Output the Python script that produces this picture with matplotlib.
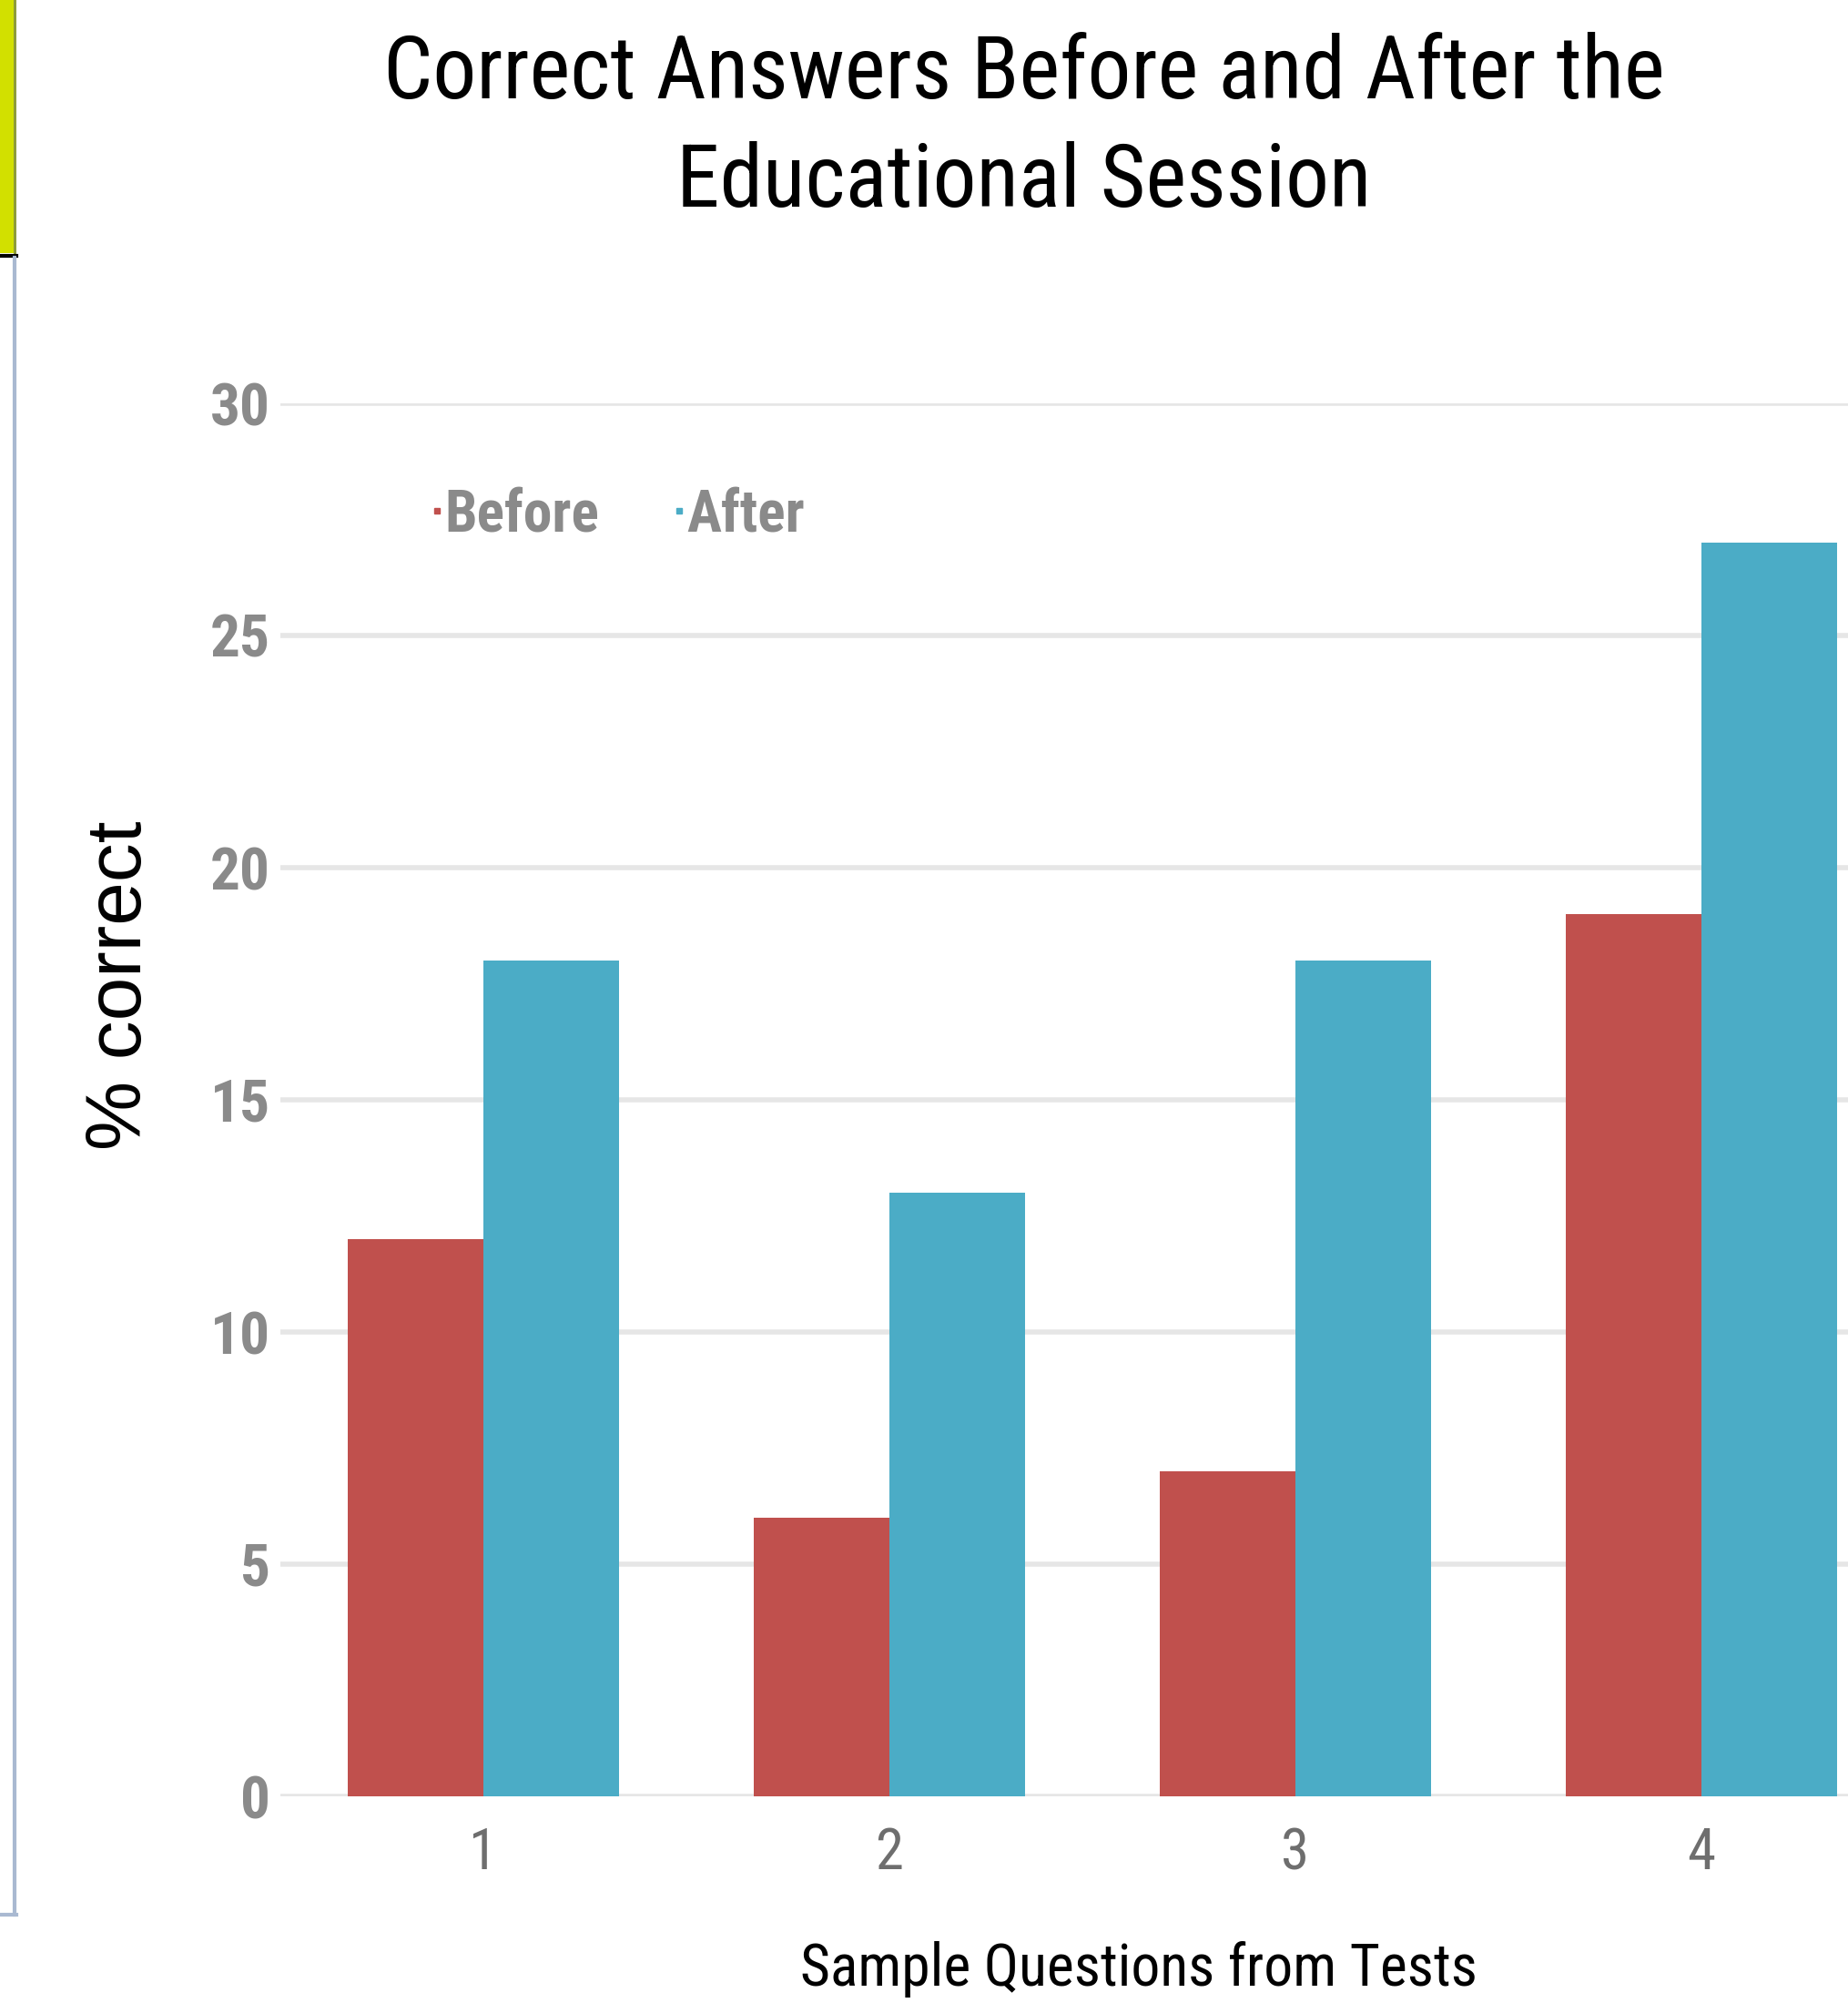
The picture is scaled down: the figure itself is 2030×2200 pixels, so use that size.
import matplotlib
matplotlib.use("Agg")
import matplotlib.pyplot as plt
from matplotlib import font_manager as fm
from matplotlib.lines import Line2D
from matplotlib.patches import Rectangle
import numpy as np

# Data
questions = ["1", "2", "3", "4"]
before = [12, 6, 7, 19]
after = [18, 13, 18, 27]
y_ticks = [0, 5, 10, 15, 20, 25, 30]
series_names = ["Before", "After"]

title = "Correct Answers Before and After the\nEducational Session"
x_label = "Sample Questions from Tests"
y_label = "% correct"

RED = "#C0504D"
BLUE = "#4BACC6"


def _weight(f):
    w = f.weight
    if isinstance(w, int):
        return w
    return fm.weight_dict.get(str(w), 400)


def narrow_font(bold=False):
    """Pick a condensed sans-serif face if one is installed."""
    preferred = ["liberation sans narrow", "arial narrow", "roboto condensed",
                 "open sans condensed", "noto sans condensed", "dejavu sans condensed",
                 "noto sans", "open sans", "roboto", "dejavu sans"]
    cands = []
    for f in fm.fontManager.ttflist:
        n = f.name.lower()
        st = str(f.stretch).lower()
        fn = f.fname.lower()
        narrowish = ("narrow" in n or "condensed" in n or "condensed" in st
                     or "narrow" in fn or "condensed" in fn)
        if not narrowish or f.style != "normal":
            continue
        if "mono" in n or ("serif" in n and "sans" not in n):
            continue
        rank = next((i for i, p in enumerate(preferred) if n.startswith(p)), len(preferred))
        cands.append((rank, abs(_weight(f) - (700 if bold else 400)),
                      "semi" in st or "semi" in fn, f.fname))
    if cands:
        cands.sort()
        return cands[0][3]
    return None


def props(bold=False, size=20, family="Liberation Sans"):
    path = narrow_font(bold)
    if path:
        return fm.FontProperties(fname=path, size=size)
    return fm.FontProperties(family=[family, "DejaVu Sans"],
                             weight="bold" if bold else "normal", size=size)


W, H = 2031, 2200
fig = plt.figure(figsize=(W / 100, H / 100), dpi=100)
fig.patch.set_facecolor("white")
renderer = fig.canvas.get_renderer()


def fitted(text, fp, target_w, rotation=0):
    """Return a copy of fp sized so that text spans target_w pixels."""
    fp = fp.copy()
    fp.set_size(50)
    t = fig.text(0, 0, text, fontproperties=fp, rotation=rotation)
    ext = t.get_window_extent(renderer)
    t.remove()
    span = ext.height if rotation else ext.width
    fp.set_size(50 * target_w / span)
    return fp


fp_regular = props(False)
fp_bold = props(True)

ax_left, ax_bottom = 308 / W, 1 - 1973 / H
ax_w, ax_h = 1784 / W, (1973 - 443) / H
ax = fig.add_axes([ax_left, ax_bottom, ax_w, ax_h])

x = np.arange(1, len(questions) + 1)
bw = 0.334
ax.bar(x - bw / 2, before, width=bw, color=RED, zorder=3, label=series_names[0])
ax.bar(x + bw / 2, after, width=bw, color=BLUE, zorder=3, label=series_names[1])

ax.set_xlim(0.5, 4.5)
ax.set_ylim(0, 30)
ax.set_yticks(y_ticks)
ax.set_xticks(x)
ax.set_xticklabels(questions)
ax.grid(axis="y", color="#e6e6e6", linewidth=4, zorder=0)
ax.set_axisbelow(True)
for s in ax.spines.values():
    s.set_visible(False)
ax.tick_params(axis="both", length=0)
ax.tick_params(axis="y", pad=8)
ax.tick_params(axis="x", pad=24)

fp_ytick = fitted("30", fp_bold, 66)
fp_xtick = fitted("30", fp_regular, 62)
for lab in ax.get_yticklabels():
    lab.set_fontproperties(fp_ytick)
    lab.set_color("#8a8a8a")
for lab in ax.get_xticklabels():
    lab.set_fontproperties(fp_xtick)
    lab.set_color("#6e6e6e")

# Axis titles
fig.text(1251 / W, 1 - 2163 / H, x_label, ha="center", va="center",
         fontproperties=fitted(x_label, fp_regular, 744), color="black")
fp_arial = fm.FontProperties(family=["Liberation Sans", "DejaVu Sans"])
fig.text(133 / W, 1 - 1082 / H, y_label, ha="center", va="center", rotation=90,
         fontproperties=fitted(y_label, fp_arial, 362, rotation=90), color="black")

# Chart title
fig.text(1125 / W, 1 - 36 / H, title, ha="center", va="top",
         fontproperties=fitted(title, fp_regular, 1409), color="black",
         linespacing=1.37)

# Legend
fp_leg = fitted("Before", fp_bold, 170)
handles = [Line2D([], [], marker="s", linestyle="none", color=RED, markersize=5),
           Line2D([], [], marker="s", linestyle="none", color=BLUE, markersize=5)]
leg = fig.legend(handles, series_names, loc="center left",
                 bbox_to_anchor=(472 / W, 1 - 566 / H), ncol=2, frameon=False,
                 handlelength=0.25, handletextpad=0.0, columnspacing=1.27,
                 borderpad=0, borderaxespad=0, prop=fp_leg)
for t in leg.get_texts():
    t.set_color("#8a8a8a")

# Page edge decoration on the left
fig.add_artist(Rectangle((0, 1 - 278 / H), 17 / W, 278 / H, transform=fig.transFigure,
                         facecolor="#d2e000", edgecolor="none"))
fig.add_artist(Rectangle((15 / W, 1 - 280 / H), 3 / W, 280 / H, transform=fig.transFigure,
                         facecolor="#8e9c3a", edgecolor="none"))
fig.add_artist(Line2D([0, 18 / W], [1 - 281 / H, 1 - 281 / H], transform=fig.transFigure,
                      color="black", linewidth=3))
fig.add_artist(Line2D([16.5 / W, 16.5 / W], [1 - 283 / H, 1 - 2103 / H],
                      transform=fig.transFigure, color="#a9b9d1", linewidth=3))
fig.add_artist(Line2D([0, 18 / W], [1 - 2103 / H, 1 - 2103 / H], transform=fig.transFigure,
                      color="#a9b9d1", linewidth=3))

fig.savefig("out.png", dpi=100, facecolor="white")
